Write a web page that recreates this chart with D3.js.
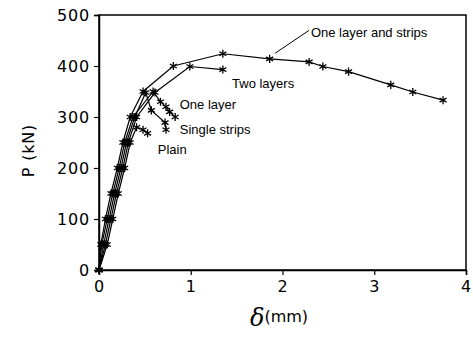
<!DOCTYPE html>
<html>
<head>
<meta charset="utf-8">
<script src="https://cdn.jsdelivr.net/npm/d3@7"></script>
<style>
  body { margin: 0; background: #fff; }
  .tick text { font-family: "DejaVu Sans", sans-serif; }
</style>
</head>
<body>
<svg id="chart" width="473" height="338"></svg>
<script>
// deflection (mm) and load (kN)
const plain = [[0,0],[0.09,50],[0.15,100],[0.21,150],[0.28,200],[0.34,250],[0.41,280],[0.48,275],[0.53,268]];
const singleStrips = [[0,0],[0.05,50],[0.11,100],[0.17,150],[0.24,200],[0.30,250],[0.39,300],[0.51,348],[0.57,313],[0.72,289],[0.73,275]];
const oneLayer = [[0,0],[0.03,50],[0.09,100],[0.15,150],[0.22,200],[0.28,250],[0.37,300],[0.59,350],[0.67,330],[0.73,320],[0.77,310],[0.83,300]];
const twoLayers = [[0,0],[0.07,50],[0.13,100],[0.19,150],[0.26,200],[0.32,250],[0.41,300],[0.61,348],[0.99,399],[1.35,393]];
const oneLayerStrips = [[0,0],[0.02,50],[0.07,100],[0.13,150],[0.20,200],[0.26,250],[0.34,300],[0.48,350],[0.81,400],[1.35,424],[1.86,414],[2.29,408],[2.44,399],[2.72,389],[3.18,363],[3.42,349],[3.75,333]];

const xTicks = [0, 1, 2, 3, 4];
const yTicks = [0, 100, 200, 300, 400, 500];

const series = [plain, singleStrips, oneLayer, twoLayers, oneLayerStrips];

const svg = d3.select("#chart");
const mLeft = 99, mRight = 466, mTop = 15, mBottom = 270;

const x = d3.scaleLinear().domain([0, 4]).range([mLeft, mRight]);
const y = d3.scaleLinear().domain([0, 500]).range([mBottom, mTop]);

svg.append("rect").attr("width", 473).attr("height", 338).attr("fill", "#fff");

// frame
svg.append("rect")
  .attr("x", mLeft).attr("y", mTop)
  .attr("width", mRight - mLeft).attr("height", mBottom - mTop)
  .attr("fill", "none").attr("stroke", "#000").attr("stroke-width", 1.5);

const xAxis = svg.append("g")
  .attr("transform", `translate(0,${mBottom})`)
  .call(d3.axisBottom(x).tickValues(xTicks).tickFormat(d3.format("d")).tickSize(5).tickPadding(6));
const yAxis = svg.append("g")
  .attr("transform", `translate(${mLeft},0)`)
  .call(d3.axisLeft(y).tickValues(yTicks).tickFormat(d3.format("d")).tickSize(5).tickPadding(4));

[xAxis, yAxis].forEach(g => {
  g.select(".domain").attr("stroke-width", 1.5);
  g.selectAll(".tick line").attr("stroke-width", 1.2);
  g.selectAll(".tick text").attr("font-size", 16).attr("fill", "#000").attr("letter-spacing", 0.8);
});

// curves
const line = d3.line().x(d => x(d[0])).y(d => y(d[1]));
svg.append("g").selectAll("path")
  .data(series)
  .enter()
  .append("path")
  .attr("d", line)
  .attr("fill", "none")
  .attr("stroke", "#000")
  .attr("stroke-width", 1.2);

const star = d3.symbol().type(d3.symbolAsterisk).size(45);
svg.append("g").selectAll("path")
  .data(series.flat())
  .enter()
  .append("path")
  .attr("transform", d => `translate(${x(d[0])},${y(d[1])})`)
  .attr("d", star)
  .attr("fill", "none")
  .attr("stroke", "#000")
  .attr("stroke-width", 1.3);

// curve labels
const labels = [
  { text: "One layer and strips", at: [2.31, 465] },
  { text: "Two layers", at: [1.45, 365] },
  { text: "One layer", at: [0.88, 324] },
  { text: "Single strips", at: [0.88, 275] },
  { text: "Plain", at: [0.64, 236] }
];
svg.append("g").selectAll("text")
  .data(labels)
  .enter()
  .append("text")
  .attr("x", d => x(d.at[0]))
  .attr("y", d => y(d.at[1]))
  .attr("dy", "0.35em")
  .attr("font-family", "'Liberation Sans', Arial, sans-serif")
  .attr("font-size", 13)
  .text(d => d.text);

svg.append("line")
  .attr("x1", x(1.92)).attr("y1", y(425))
  .attr("x2", x(2.29)).attr("y2", y(470))
  .attr("stroke", "#000").attr("stroke-width", 1);

// axis titles
svg.append("text")
  .attr("transform", `translate(34,${(mTop + mBottom) / 2 + 8}) rotate(-90)`)
  .attr("text-anchor", "middle")
  .attr("font-family", "'DejaVu Sans', sans-serif")
  .attr("font-size", 16)
  .attr("letter-spacing", 0.8)
  .text("P (kN)");

const xt = svg.append("text")
  .attr("x", 279).attr("y", 326)
  .attr("text-anchor", "middle")
  .attr("font-family", "'DejaVu Sans', sans-serif");
xt.append("tspan").attr("font-size", 24).attr("font-style", "italic")
  .attr("font-family", "'DejaVu Serif', serif").text("δ");
xt.append("tspan").attr("font-size", 16).attr("dy", -4).text("(mm)");
</script>
</body>
</html>
